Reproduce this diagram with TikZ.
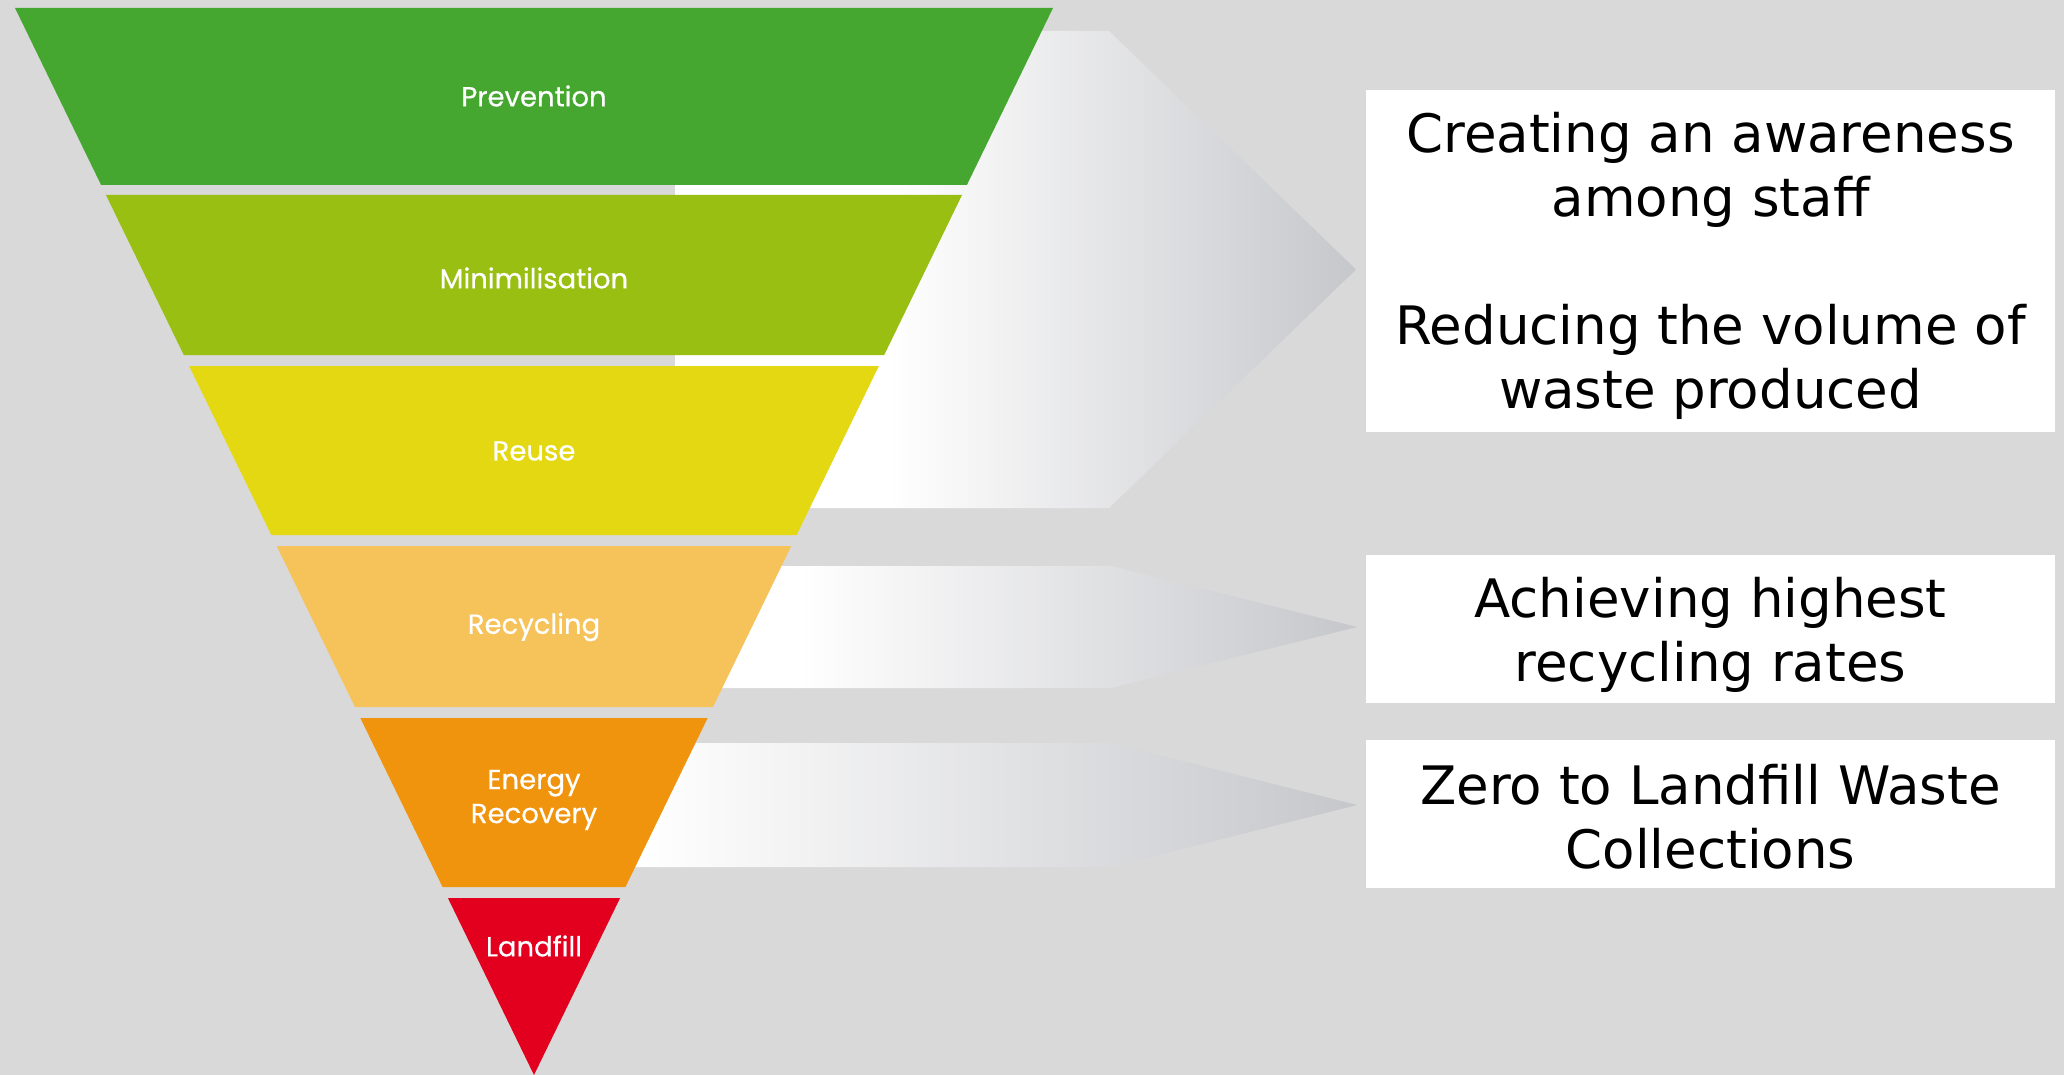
\documentclass[tikz,border=0pt]{standalone}
\usepackage{fontspec}
\setmainfont{DejaVu Sans}
\newfontfamily\lblfont{Poppins}[FakeBold=0.6]
\definecolor{bg}{HTML}{D9D9D9}
\definecolor{cPrev}{HTML}{45A72F}
\definecolor{cMin}{HTML}{98BF12}
\definecolor{cReuse}{HTML}{E4D812}
\definecolor{cRec}{HTML}{F6C25A}
\definecolor{cEn}{HTML}{F0940D}
\definecolor{cLand}{HTML}{E2001E}
\definecolor{agray}{HTML}{C6C7CB}
\newcommand{\hw}[1]{(1075-#1)*0.48641}
\newcommand{\pband}[3]{%
  \fill[#3] ({534-\hw{#1}},#1) -- ({534+\hw{#1}},#1) -- ({534+\hw{#2}},#2) -- ({534-\hw{#2}},#2) -- cycle;}
\begin{document}
\begin{tikzpicture}[x=1pt,y=-1pt,
  lbl/.style={text=white, font=\lblfont\fontsize{27.5}{34}\selectfont, align=center, inner sep=0pt},
  txtbox/.style={fill=white, inner sep=0pt, minimum width=689pt, minimum height=#1},
  boxtext/.style={align=center, inner sep=0pt, font=\fontsize{53}{64}\selectfont},
]
\fill[bg] (0,0) rectangle (2064,1075);
\useasboundingbox (0,0) rectangle (2064,1075);

% arrows (behind pyramid)
\begin{scope}
  \clip (675,31) -- (1109,31) -- (1356,269.5) -- (1109,508) -- (675,508) -- cycle;
  \fill[white] (670,25) rectangle (890,515);
  \shade[left color=white, right color=agray] (889,25) rectangle (1358,515);
\end{scope}
\begin{scope}
  \clip (560,566) -- (1111,566) -- (1357,627) -- (1111,688) -- (560,688) -- cycle;
  \fill[white] (555,560) rectangle (800,695);
  \shade[left color=white, right color=agray] (799,560) rectangle (1358,695);
\end{scope}
\begin{scope}
  \clip (560,743) -- (1111,743) -- (1357,805) -- (1111,867) -- (560,867) -- cycle;
  \fill[white] (555,735) rectangle (640,875);
  \shade[left color=white, right color=agray] (639,735) rectangle (1358,875);
\end{scope}

% pyramid bands
\pband{8}{185}{cPrev}
\pband{195}{355}{cMin}
\pband{366}{535}{cReuse}
\pband{546}{707}{cRec}
\pband{718}{887}{cEn}
\fill[cLand] ({534-\hw{898}},898) -- ({534+\hw{898}},898) -- (534,1075) -- cycle;

% band labels
\node[lbl] (prev) at (534,96) {Prevention};
\node[lbl] (mini) at (534,278) {Minimilisation};
\node[lbl] (reuse) at (534,451) {Reuse};
\node[lbl] (recy) at (534,627) {Recycling};
\node[lbl] (energy) at (534,800) {Energy\\Recovery};
\node[lbl] (land) at (534,946) {Landfill};

% text boxes
\node[txtbox=342pt] (b1) at (1710.5,261) {};
\node[txtbox=148pt] (b2) at (1710.5,629) {};
\node[txtbox=148pt] (b3) at (1710.5,814) {};
\node[boxtext] (t1) at ([yshift=-5pt]b1.center) {Creating an awareness\\among staff\\[64pt]Reducing the volume of\\waste produced};
\node[boxtext] (t2) at ([yshift=-6pt]b2.center) {Achieving highest\\recycling rates};
\node[boxtext] (t3) at ([yshift=-3pt]b3.center) {Zero to Landfill Waste\\Collections};
\end{tikzpicture}
\end{document}
